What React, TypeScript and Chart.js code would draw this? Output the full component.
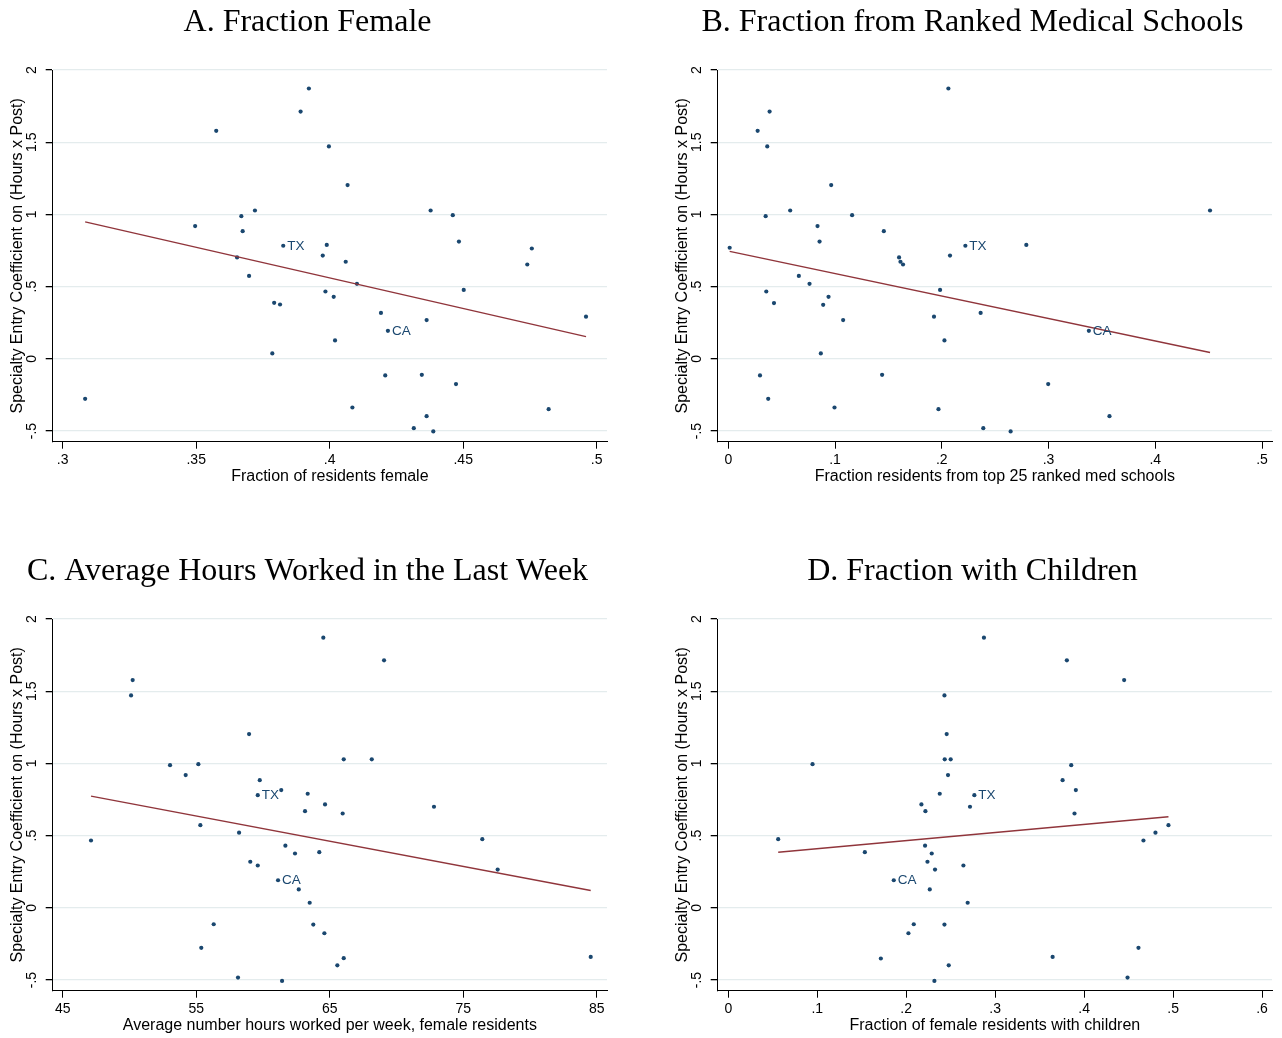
import React, { useEffect, useRef } from 'react';
import { Chart, registerables } from 'chart.js';

Chart.register(...registerables);

// ---------- shared ----------
const yTitle = 'Specialty Entry Coefficient on (Hours x Post)';
const yTicks = [-0.5, 0, 0.5, 1, 1.5, 2];
const yTickLabels = ['-.5', '0', '.5', '1', '1.5', '2'];
const yMin = -0.574;
const yMax = 2.0;

// ---------- Panel A ----------
const titleA = 'A. Fraction Female';
const xTitleA = 'Fraction of residents female';
const xTicksA = [0.3, 0.35, 0.4, 0.45, 0.5];
const xTickLabelsA = ['.3', '.35', '.4', '.45', '.5'];
const xA = [0.3084, 0.3496, 0.3575, 0.3669, 0.3674, 0.372, 0.3653, 0.3698, 0.3826, 0.3792, 0.3814, 0.3785, 0.3891, 0.3922, 0.3997, 0.3989, 0.3974, 0.3984, 0.4015, 0.402, 0.4067, 0.406, 0.4102, 0.4085, 0.4192, 0.4218, 0.4208, 0.4315, 0.4363, 0.4345, 0.4363, 0.4388, 0.4378, 0.4461, 0.4484, 0.4502, 0.4473, 0.474, 0.4757, 0.482, 0.496];
const yA = [-0.277, 0.919, 1.579, 0.988, 0.884, 1.027, 0.702, 0.574, 0.783, 0.388, 0.376, 0.037, 1.712, 1.872, 1.471, 0.789, 0.715, 0.466, 0.429, 0.127, 1.203, 0.672, 0.519, -0.337, 0.318, 0.194, -0.115, -0.48, 0.268, -0.111, -0.397, -0.503, 1.027, 0.995, 0.812, 0.477, -0.175, 0.653, 0.764, -0.349, 0.292];
const lblA = ['', '', '', '', '', '', '', '', 'TX', '', '', '', '', '', '', '', '', '', '', '', '', '', '', '', '', 'CA', '', '', '', '', '', '', '', '', '', '', '', '', '', '', ''];
const fitXA = [0.3084, 0.496];
const fitYA = [0.948, 0.154];

// ---------- Panel B ----------
const titleB = 'B. Fraction from Ranked Medical Schools';
const xTitleB = 'Fraction residents from top 25 ranked med schools';
const xTicksB = [0, 0.1, 0.2, 0.3, 0.4, 0.5];
const xTickLabelsB = ['0', '.1', '.2', '.3', '.4', '.5'];
const xB = [0.0013, 0.0275, 0.0387, 0.0365, 0.035, 0.0356, 0.0428, 0.0297, 0.0374, 0.058, 0.0661, 0.0761, 0.0836, 0.0855, 0.0939, 0.0889, 0.0867, 0.0964, 0.0995, 0.1076, 0.116, 0.1457, 0.1441, 0.16, 0.1613, 0.1637, 0.1927, 0.1984, 0.2025, 0.1969, 0.2062, 0.2077, 0.2221, 0.2364, 0.2389, 0.2792, 0.2645, 0.2997, 0.3378, 0.3571, 0.4513];
const yB = [0.769, 1.579, 1.712, 1.471, 0.988, 0.466, 0.386, -0.115, -0.277, 1.027, 0.574, 0.519, 0.919, 0.812, 0.429, 0.374, 0.037, 1.203, -0.337, 0.268, 0.995, 0.884, -0.111, 0.702, 0.672, 0.653, 0.292, 0.477, 0.127, -0.349, 1.872, 0.715, 0.783, 0.318, -0.48, 0.789, -0.503, -0.175, 0.194, -0.397, 1.027];
const lblB = ['', '', '', '', '', '', '', '', '', '', '', '', '', '', '', '', '', '', '', '', '', '', '', '', '', '', '', '', '', '', '', '', 'TX', '', '', '', '', '', 'CA', '', ''];
const fitXB = [0.0013, 0.4513];
const fitYB = [0.744, 0.044];

// ---------- Panel C ----------
const titleC = 'C. Average Hours Worked in the Last Week';
const xTitleC = 'Average number hours worked per week, female residents';
const xTicksC = [45, 55, 65, 75, 85];
const xTickLabelsC = ['45', '55', '65', '75', '85'];
const xC = [47.12, 50.24, 50.12, 53.04, 54.21, 55.16, 55.31, 55.38, 56.31, 58.13, 58.21, 58.96, 59.05, 59.61, 59.76, 59.61, 61.37, 61.13, 61.43, 61.68, 62.4, 62.68, 63.5, 63.77, 64.6, 64.22, 63.15, 63.35, 64.65, 64.52, 65.97, 66.05, 65.57, 66.05, 68.15, 69.07, 72.81, 76.43, 77.58, 84.55];
const yC = [0.466, 1.577, 1.471, 0.988, 0.919, 0.995, 0.572, -0.277, -0.114, -0.483, 0.52, 1.203, 0.319, 0.293, 0.884, 0.78, 0.815, 0.191, -0.506, 0.43, 0.376, 0.127, 0.035, -0.116, -0.176, 0.385, 0.669, 0.79, 0.716, 1.871, 0.653, 1.028, -0.398, -0.349, 1.028, 1.714, 0.7, 0.475, 0.265, -0.34];
const lblC = ['', '', '', '', '', '', '', '', '', '', '', '', '', '', '', 'TX', '', 'CA', '', '', '', '', '', '', '', '', '', '', '', '', '', '', '', '', '', '', '', '', '', ''];
const fitXC = [47.12, 84.55];
const fitYC = [0.773, 0.12];

// ---------- Panel D ----------
const titleD = 'D. Fraction with Children';
const xTitleD = 'Fraction of female residents with children';
const xTicksD = [0, 0.1, 0.2, 0.3, 0.4, 0.5, 0.6];
const xTickLabelsD = ['0', '.1', '.2', '.3', '.4', '.5', '.6'];
const xD = [0.0561, 0.0947, 0.1535, 0.1715, 0.186, 0.2025, 0.2085, 0.2171, 0.2216, 0.2212, 0.2287, 0.2239, 0.2324, 0.2265, 0.2317, 0.2377, 0.243, 0.2455, 0.2433, 0.25, 0.247, 0.243, 0.2478, 0.2643, 0.2691, 0.2717, 0.2766, 0.2874, 0.3806, 0.445, 0.3855, 0.3758, 0.3907, 0.3892, 0.4667, 0.4802, 0.4948, 0.3646, 0.4611, 0.4488];
const yD = [0.475, 0.995, 0.385, -0.351, 0.191, -0.176, -0.114, 0.716, 0.669, 0.43, 0.376, 0.319, 0.265, 0.127, -0.506, 0.79, 1.471, 1.203, 1.028, 1.028, 0.919, -0.116, -0.398, 0.293, 0.035, 0.7, 0.78, 1.871, 1.714, 1.577, 0.988, 0.884, 0.815, 0.653, 0.466, 0.52, 0.572, -0.34, -0.277, -0.483];
const lblD = ['', '', '', '', 'CA', '', '', '', '', '', '', '', '', '', '', '', '', '', '', '', '', '', '', '', '', '', 'TX', '', '', '', '', '', '', '', '', '', '', '', '', ''];
const fitXD = [0.0561, 0.4948];
const fitYD = [0.385, 0.631];

// ---------- styling ----------
const SANS = '"Liberation Sans", Arial, Helvetica, sans-serif';
const SERIF = '"Liberation Serif", "Times New Roman", Times, serif';
const DOT = '#1a476f';
const FIT = '#90353b';
const GRID = '#e4eced';
const CW = 615;
const CH = 489;

const pointLabelPlugin = {
  id: 'pointLabels',
  afterDatasetsDraw(chart: any) {
    const ds: any = chart.data.datasets[1];
    const labels: string[] = ds && ds.pointLabels;
    if (!labels) return;
    const meta = chart.getDatasetMeta(1);
    const ctx = chart.ctx;
    ctx.save();
    ctx.font = `13.5px ${SANS}`;
    ctx.fillStyle = DOT;
    ctx.textAlign = 'left';
    ctx.textBaseline = 'middle';
    meta.data.forEach((el: any, i: number) => {
      if (labels[i]) ctx.fillText(labels[i], el.x + 4, el.y + 0.5);
    });
    ctx.restore();
  },
};

type PanelProps = {
  left: number;
  top: number;
  title: string;
  xTitle: string;
  xs: number[];
  ys: number[];
  lbls: string[];
  fitX: number[];
  fitY: number[];
  xMin: number;
  xMax: number;
  xTicks: number[];
  xTickLabels: string[];
};

function Panel(p: PanelProps) {
  const ref = useRef<HTMLCanvasElement | null>(null);
  useEffect(() => {
    if (!ref.current) return;
    const chart = new Chart(ref.current, {
      type: 'scatter',
      data: {
        datasets: [
          {
            type: 'line',
            data: p.fitX.map((x, i) => ({ x, y: p.fitY[i] })),
            borderColor: FIT,
            borderWidth: 1.4,
            pointRadius: 0,
            showLine: true,
            fill: false,
          } as any,
          {
            type: 'scatter',
            data: p.xs.map((x, i) => ({ x, y: p.ys[i] })),
            pointRadius: 2.1,
            pointBackgroundColor: DOT,
            pointBorderWidth: 0,
            pointBorderColor: DOT,
            showLine: false,
            pointLabels: p.lbls,
          } as any,
        ],
      },
      options: {
        responsive: false,
        animation: false,
        devicePixelRatio: 1,
        events: [],
        layout: { padding: { left: 8, right: 8, top: 0, bottom: 0 } },
        plugins: {
          legend: { display: false },
          tooltip: { enabled: false },
          title: {
            display: true,
            text: p.title,
            color: '#000',
            font: { family: SERIF, size: 32, weight: 'normal' },
            padding: { top: 3, bottom: 28.6 },
          },
        },
        scales: {
          x: {
            type: 'linear',
            min: p.xMin,
            max: p.xMax,
            afterBuildTicks: (s: any) => {
              s.ticks = p.xTicks.map((v) => ({ value: v }));
            },
            afterFit: (s: any) => {
              s.height = 47.3;
            },
            ticks: {
              autoSkip: false,
              minRotation: 0,
              maxRotation: 0,
              padding: 3,
              color: '#000',
              font: { family: SANS, size: 14 },
              callback: (_v: any, i: number) => p.xTickLabels[i],
            },
            grid: {
              drawOnChartArea: false,
              drawTicks: true,
              tickLength: 7,
              color: '#000',
              lineWidth: 1,
            },
            border: { display: true, color: '#000', width: 1 },
            title: {
              display: true,
              text: p.xTitle,
              color: '#000',
              font: { family: SANS, size: 16 },
              padding: { top: 0, bottom: 3 },
            },
          },
          y: {
            type: 'linear',
            min: yMin,
            max: yMax,
            afterBuildTicks: (s: any) => {
              s.ticks = yTicks.map((v) => ({ value: v }));
            },
            afterFit: (s: any) => {
              s.width = 44.7;
            },
            ticks: {
              autoSkip: false,
              minRotation: 90,
              maxRotation: 90,
              crossAlign: 'center',
              padding: 4,
              color: '#000',
              font: { family: SANS, size: 14 },
              callback: (_v: any, i: number) => yTickLabels[i],
            },
            grid: {
              drawOnChartArea: true,
              drawTicks: true,
              tickLength: 7,
              color: GRID,
              tickColor: '#000',
              lineWidth: 1.3,
            },
            border: { display: true, color: '#000', width: 1 },
            title: {
              display: true,
              text: yTitle,
              color: '#000',
              font: { family: SANS, size: 16 },
              padding: { top: 0, bottom: 0 },
            },
          },
        },
      } as any,
      plugins: [pointLabelPlugin],
    });
    return () => chart.destroy();
  }, []);
  return (
    <canvas
      ref={ref}
      width={CW}
      height={CH}
      style={{ position: 'absolute', left: p.left, top: p.top, width: CW, height: CH }}
    />
  );
}

export default function App() {
  return (
    <div
      style={{
        position: 'absolute',
        left: 0,
        top: 0,
        width: 1282,
        height: 1038,
        overflow: 'hidden',
        background: '#fff',
      }}
    >
      <Panel left={0} top={0} title={titleA} xTitle={xTitleA} xs={xA} ys={yA} lbls={lblA}
        fitX={fitXA} fitY={fitYA} xMin={0.29625} xMax={0.50386} xTicks={xTicksA} xTickLabels={xTickLabelsA} />
      <Panel left={665} top={0} title={titleB} xTitle={xTitleB} xs={xB} ys={yB} lbls={lblB}
        fitX={fitXB} fitY={fitYB} xMin={-0.00992} xMax={0.50936} xTicks={xTicksB} xTickLabels={xTickLabelsB} />
      <Panel left={0} top={549} title={titleC} xTitle={xTitleC} xs={xC} ys={yC} lbls={lblC}
        fitX={fitXC} fitY={fitYC} xMin={44.25} xMax={85.77} xTicks={xTicksC} xTickLabels={xTickLabelsC} />
      <Panel left={665} top={549} title={titleD} xTitle={xTitleD} xs={xD} ys={yD} lbls={lblD}
        fitX={fitXD} fitY={fitYD} xMin={-0.0119} xMax={0.6112} xTicks={xTicksD} xTickLabels={xTickLabelsD} />
    </div>
  );
}
